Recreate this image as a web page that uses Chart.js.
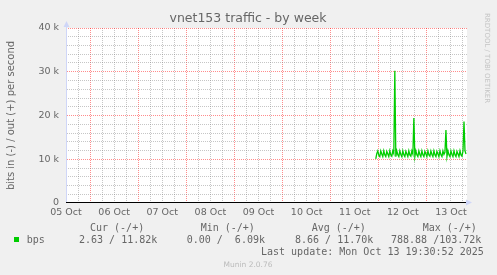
<!DOCTYPE html>
<html>
<head>
<meta charset="utf-8">
<script src="https://cdn.jsdelivr.net/npm/chart.js@4.4.0/dist/chart.umd.min.js"></script>
<style>
  html, body { margin: 0; padding: 0; background: #f0f0f0; }
  canvas { display: block; }
</style>
</head>
<body>
<canvas id="chart" width="497" height="275"></canvas>
<script>
// time axis in hours since 05 Oct 00:00, one sample every 30 min
const firstSampleHour = 166.5;
const sampleStep = 0.5;

// out (+) traffic, k bits per second
const outKbps = [
  10.1, 11.3, 11.9, 10.9, 10.6, 11.9, 11.2, 10.6, 11.9, 11.0,
  10.6, 11.8, 11.2, 10.6, 11.9, 11.0, 10.7, 11.9, 11.3, 30.2,
  10.6, 11.9, 11.0, 10.6, 11.9, 11.1, 10.6, 11.9, 11.0, 10.6,
  11.8, 11.2, 10.6, 11.9, 11.0, 10.7, 11.9, 11.2, 19.4, 10.6,
  11.9, 11.0, 10.6, 11.9, 11.1, 10.6, 11.9, 11.0, 10.6, 11.8,
  11.2, 10.6, 11.9, 11.0, 10.7, 11.9, 11.1, 10.6, 11.9, 11.0,
  10.6, 11.8, 11.2, 10.6, 11.9, 11.0, 10.6, 11.9, 11.1, 11.6,
  16.7, 10.6, 11.9, 11.0, 10.6, 11.9, 11.1, 10.6, 11.9, 11.0,
  10.6, 11.8, 11.2, 10.6, 11.9, 11.0, 10.7, 11.9, 18.6, 11.9,
  11.2
];

const dayLabels = ["05 Oct", "06 Oct", "07 Oct", "08 Oct", "09 Oct", "10 Oct", "11 Oct", "12 Oct", "13 Oct"];
const yTickLabels = ["0", "10 k", "20 k", "30 k", "40 k"];

const legendHeaders = ["Cur (-/+)", "Min (-/+)", "Avg (-/+)", "Max (-/+)"];
const legendValues = ["2.63 / 11.82k", "0.00 /  6.09k", "8.66 / 11.70k", "788.88 /103.72k"];
const seriesName = "bps";
const lastUpdate = "Last update: Mon Oct 13 19:30:52 2025";

const points = outKbps.map((v, i) => ({ x: firstSampleHour + i * sampleStep, y: v * 1000 }));

const GREEN = "#00cc00";
const AXIS = "#cfd6f8";
const FONT = "#666666";

// rrdtool style dotted grid: 1px on / 1px off, done with a checker pattern
function dotPattern(color) {
    const c = document.createElement("canvas");
    c.width = 2;
    c.height = 2;
    const g = c.getContext("2d");
    g.fillStyle = color;
    g.fillRect(0, 0, 1, 1);
    g.fillRect(1, 1, 1, 1);
    return document.getElementById("chart").getContext("2d").createPattern(c, "repeat");
}
const MGRID = dotPattern("rgba(255,0,0,0.45)");
const GRID = dotPattern("rgba(128,128,128,0.45)");

const muninLook = {
    id: "muninLook",
    beforeDraw(chart) {
        const { ctx, chartArea: a } = chart;
        ctx.save();
        ctx.fillStyle = "#f0f0f0";
        ctx.fillRect(0, 0, chart.width, chart.height);
        ctx.fillStyle = "#ffffff";
        ctx.fillRect(a.left, a.top, a.right - a.left, a.bottom - a.top);
        ctx.restore();
    },
    afterDatasetsDraw(chart) {
        const { ctx, chartArea: a } = chart;
        const y0 = Math.round(chart.scales.y.getPixelForValue(0)) - 0.5;
        const xl = a.left + 0.5;
        ctx.save();
        // y axis + arrow
        ctx.strokeStyle = AXIS;
        ctx.lineWidth = 1;
        ctx.beginPath();
        ctx.moveTo(xl, y0);
        ctx.lineTo(xl, a.top - 4);
        ctx.stroke();
        ctx.fillStyle = AXIS;
        ctx.beginPath();
        ctx.moveTo(xl - 3, a.top - 1);
        ctx.lineTo(xl + 3, a.top - 1);
        ctx.lineTo(xl, a.top - 7);
        ctx.closePath();
        ctx.fill();
        // x axis arrow
        ctx.beginPath();
        ctx.moveTo(a.right - 1, y0 - 3);
        ctx.lineTo(a.right - 1, y0 + 3);
        ctx.lineTo(a.right + 5, y0);
        ctx.closePath();
        ctx.fill();
        // zero line
        ctx.strokeStyle = "#000000";
        ctx.beginPath();
        ctx.moveTo(a.left, y0);
        ctx.lineTo(a.right - 1, y0);
        ctx.stroke();
        ctx.restore();
    },
    afterDraw(chart) {
        const ctx = chart.ctx;
        ctx.save();
        ctx.fillStyle = FONT;
        ctx.textBaseline = "alphabetic";

        ctx.font = '12.5px "DejaVu Sans"';
        ctx.textAlign = "center";
        ctx.fillText("vnet153 traffic - by week", 248, 22);

        ctx.textAlign = "left";
        ctx.font = '10px "DejaVu Sans Mono"';
        const headX = [90, 200.7, 311.7, 422.7];
        legendHeaders.forEach((t, i) => ctx.fillText(t, headX[i], 231.3));
        ctx.fillText(seriesName, 26.7, 243);
        const valX = [79, 186.7, 295, 391];
        legendValues.forEach((t, i) => ctx.fillText(t, valX[i], 243));
        ctx.fillText(lastUpdate, 261, 255.3);

        ctx.fillStyle = GREEN;
        ctx.fillRect(14, 237, 5, 5);

        ctx.fillStyle = "#bbbbbb";
        ctx.font = '7.5px "DejaVu Sans"';
        ctx.textAlign = "center";
        ctx.fillText("Munin 2.0.76", 248, 267);

        ctx.fillStyle = "#c4c4c4";
        ctx.font = '7px "DejaVu Sans"';
        ctx.translate(485, 13);
        ctx.rotate(Math.PI / 2);
        ctx.textAlign = "left";
        ctx.fillText("RRDTOOL / TOBI OETIKER", 0, 0);
        ctx.restore();
    }
};

new Chart(document.getElementById("chart"), {
    type: "line",
    data: {
        datasets: [{
            label: seriesName,
            data: points,
            borderColor: GREEN,
            borderWidth: 1.3,
            pointRadius: 0,
            tension: 0,
            fill: false
        }]
    },
    options: {
        responsive: false,
        animation: false,
        devicePixelRatio: 1,
        layout: { padding: { left: 0, top: 28, right: 30, bottom: 0 } },
        plugins: { legend: { display: false }, tooltip: { enabled: false } },
        scales: {
            x: {
                type: "linear",
                min: 12,
                max: 212,
                afterBuildTicks: (scale) => {
                    const ticks = [];
                    for (let h = 12; h <= 212; h += 6) ticks.push({ value: h });
                    scale.ticks = ticks;
                },
                afterFit: (scale) => { scale.height = 72; },
                ticks: {
                    autoSkip: false,
                    maxRotation: 0,
                    padding: 4,
                    color: FONT,
                    font: { family: "DejaVu Sans", size: 9.5 },
                    callback: (v) => (v % 24 === 12 ? dayLabels[(v - 12) / 24] : "")
                },
                grid: {
                    drawTicks: false,
                    lineWidth: 1,
                    color: (c) => {
                        const v = c.tick ? c.tick.value : 0;
                        if (v === 12) return "rgba(0,0,0,0)";
                        return v % 24 === 0 ? MGRID : GRID;
                    }
                },
                border: { display: false }
            },
            y: {
                min: 0,
                max: 40000,
                afterFit: (scale) => { scale.width = 66; },
                ticks: {
                    stepSize: 2000,
                    autoSkip: false,
                    padding: 7,
                    color: FONT,
                    font: { family: "DejaVu Sans", size: 9.5 },
                    callback: (v) => (v % 10000 === 0 ? yTickLabels[v / 10000] : "")
                },
                grid: {
                    drawTicks: false,
                    lineWidth: 1,
                    color: (c) => {
                        const v = c.tick ? c.tick.value : 0;
                        if (v === 0) return "rgba(0,0,0,0)";
                        return v % 10000 === 0 ? MGRID : GRID;
                    }
                },
                border: { display: false },
                title: {
                    display: true,
                    text: "bits in (-) / out (+) per second",
                    color: FONT,
                    font: { family: "DejaVu Sans", size: 10 },
                    padding: { top: 5, bottom: 0 }
                }
            }
        }
    },
    plugins: [muninLook]
});
</script>
</body>
</html>
